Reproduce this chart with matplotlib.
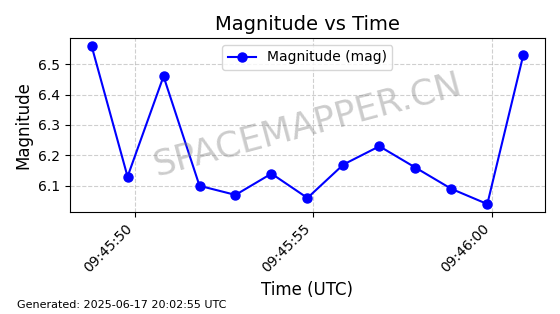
import datetime as dt
import matplotlib
matplotlib.use("Agg")
import matplotlib.pyplot as plt
import matplotlib.dates as mdates

# observation times (UTC) and magnitudes
times = [
    "09:45:48.77", "09:45:49.78", "09:45:50.79", "09:45:51.80", "09:45:52.81",
    "09:45:53.82", "09:45:54.83", "09:45:55.84", "09:45:56.85", "09:45:57.86",
    "09:45:58.87", "09:45:59.88", "09:46:00.89",
]
magnitudes = [6.56, 6.13, 6.46, 6.10, 6.07, 6.14, 6.06, 6.17, 6.23, 6.16, 6.09, 6.04, 6.53]

t = [dt.datetime.strptime("2025-06-17 " + s, "%Y-%m-%d %H:%M:%S.%f") for s in times]

fig, ax = plt.subplots(figsize=(5.6, 3.14), dpi=100)
fig.subplots_adjust(left=0.125, right=0.973, top=0.879, bottom=0.325)

ax.plot(t, magnitudes, "b-o", markersize=6.5, linewidth=1.5, label="Magnitude (mag)")
ax.set_title("Magnitude vs Time", fontsize=14)
ax.set_xlabel("Time (UTC)", fontsize=12)
ax.set_ylabel("Magnitude", fontsize=12)
ax.grid(True, linestyle="--", alpha=0.6)
ax.legend(loc="upper center", fontsize=10)

ax.xaxis.set_major_locator(mdates.SecondLocator(bysecond=range(0, 60, 5)))
ax.xaxis.set_major_formatter(mdates.DateFormatter("%H:%M:%S"))
plt.setp(ax.get_xticklabels(), rotation=45, ha="right")

# watermark
ax.text(0.5, 0.5, "SPACEMAPPER.CN", transform=ax.transAxes, fontsize=25.5,
        color="gray", alpha=0.4, rotation=15, ha="center", va="center")

fig.text(0.03, 0.02, "Generated: 2025-06-17 20:02:55 UTC", fontsize=8)

fig.savefig("out.png", dpi=100)
